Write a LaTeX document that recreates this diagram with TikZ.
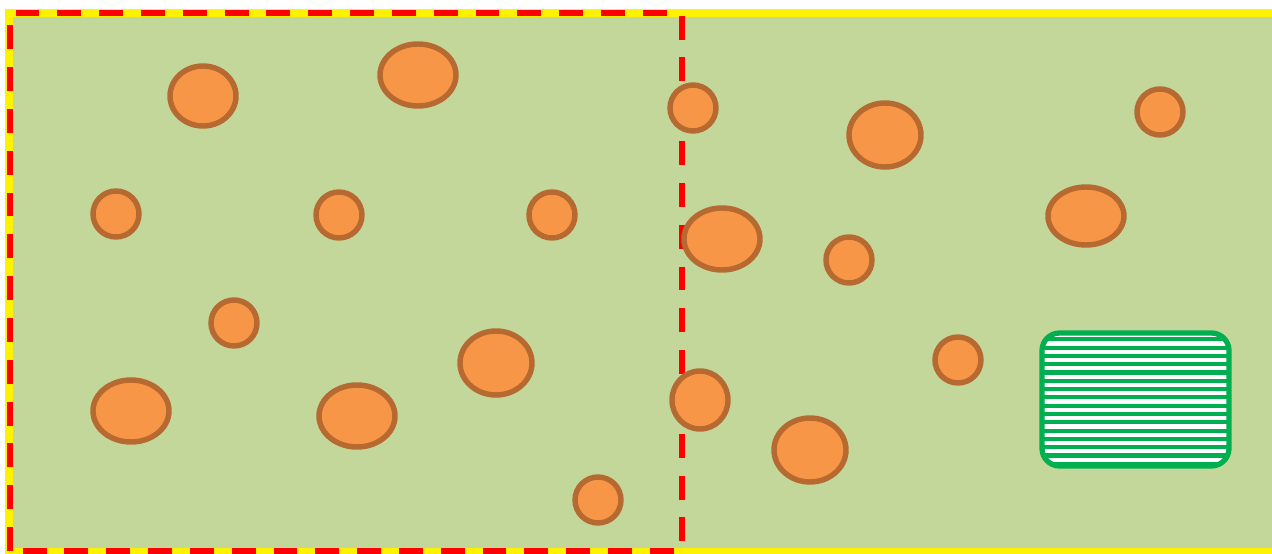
\documentclass[tikz,border=0pt]{standalone}
\usepackage{tikz}
\definecolor{field}{HTML}{C4D79B}
\definecolor{seed}{HTML}{F79646}
\definecolor{seedrim}{HTML}{B66A31}
\definecolor{plotgreen}{HTML}{00B050}
\tikzset{
    blob/.style={fill=seed, draw=seedrim, line width=3.1pt},
    frame/.style={draw=yellow, fill=field, line width=4.5pt},
    zone/.style={draw=red, line width=3.4pt, dash pattern=on 13.6pt off 10.2pt},
    plotbox/.style={draw=plotgreen, line width=3pt, rounded corners=10pt}
}

\begin{document}
\begin{tikzpicture} [x=0.02cm, y=-0.02cm]
        \clip (0,0) rectangle (1272,554);
        % field and sampled zone
        \draw[frame] (9,13) rectangle (1290,552);
        \draw[zone] (10,551) -- (10,13) -- (682,13) -- (682,551) -- cycle;

        % left part
        \draw[blob] (203,96) ellipse [x radius=33, y radius=30]; \draw[blob] (418,75) ellipse [x radius=38, y radius=31];
        \draw[blob] (116,214) ellipse [x radius=23, y radius=23]; \draw[blob] (339,215) ellipse [x radius=23, y radius=23]; \draw[blob] (552,215) ellipse [x radius=23, y radius=23];
        \draw[blob] (234,323) ellipse [x radius=23, y radius=23]; \draw[blob] (496,363) ellipse [x radius=36, y radius=32];
        \draw[blob] (131,411) ellipse [x radius=38, y radius=31]; \draw[blob] (357,416) ellipse [x radius=38, y radius=31]; \draw[blob] (598,500) ellipse [x radius=23, y radius=23];

        % right part
        \draw[blob] (693,108) ellipse [x radius=23, y radius=23]; \draw[blob] (885,135) ellipse [x radius=36, y radius=32]; \draw[blob] (1160,112) ellipse [x radius=23, y radius=23];
        \draw[blob] (722,239) ellipse [x radius=38, y radius=31]; \draw[blob] (849,260) ellipse [x radius=23, y radius=23]; \draw[blob] (1086,216) ellipse [x radius=38, y radius=29];
        \draw[blob] (958,360) ellipse [x radius=23, y radius=23]; \draw[blob] (700,400) ellipse [x radius=28, y radius=29]; \draw[blob] (810,450) ellipse [x radius=36, y radius=32];

        % striped plot
        \begin{scope}
            \clip[rounded corners=10pt] (1042,333) rectangle (1229,466);
            \fill[white] (1042,333) rectangle (1229,466);
            \foreach \k in {0,...,16} \draw[plotgreen, line width=2.3pt] (1040,331+8.3*\k) -- (1231,331+8.3*\k);
        \end{scope}
        \draw[plotbox] (1042,333) rectangle (1229,466);
    \end{tikzpicture}
\end{document}
